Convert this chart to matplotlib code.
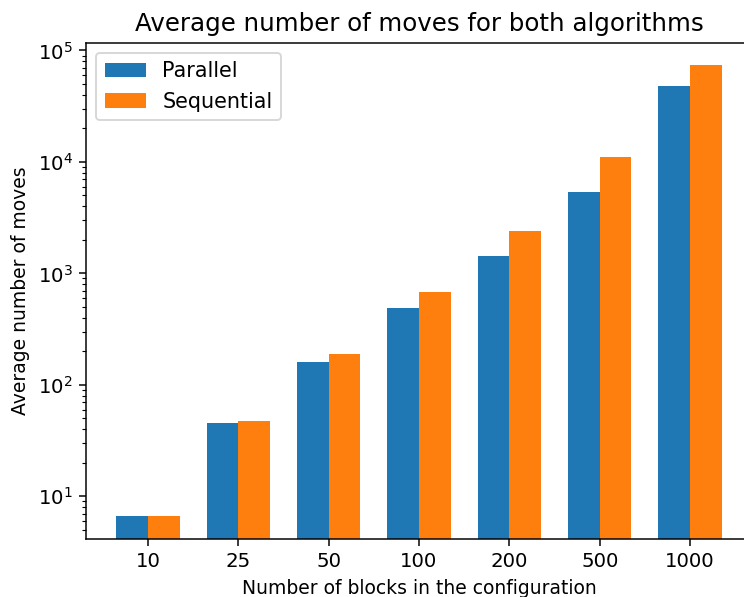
import numpy as np
import matplotlib
matplotlib.use("Agg")
import matplotlib.pyplot as plt

blocks = ["10", "25", "50", "100", "200", "500", "1000"]
parallel_moves = [6.6, 45.6, 161, 492, 1443, 5350, 47800]
sequential_moves = [6.6, 47.5, 190, 686, 2415, 11020, 73600]

DPI = 135
fig = plt.figure(figsize=(744 / DPI, 597 / DPI), dpi=DPI)
# the axes runs slightly past the right edge of the canvas
ax = fig.add_axes([86 / 744, 58 / 597, 666 / 744, 496.3 / 597])

x = np.arange(len(blocks))
width = 0.35
ax.bar(x - width / 2, parallel_moves, width, label="Parallel", color="#1f77b4")
ax.bar(x + width / 2, sequential_moves, width, label="Sequential", color="#ff7f0e")
ax.set_yscale("log")
ax.spines["right"].set_visible(False)

ax.set_xticks(x)
ax.set_xticklabels(blocks)
ax.tick_params(axis="both", which="major", labelsize=10.5)
ax.set_xlabel("Number of blocks in the configuration", fontsize=10)
ax.set_ylabel("Average number of moves", fontsize=10)
ax.set_title("Average number of moves for both algorithms", fontsize=13.1)
ax.legend(fontsize=11)

fig.savefig("out.png", dpi=DPI)
